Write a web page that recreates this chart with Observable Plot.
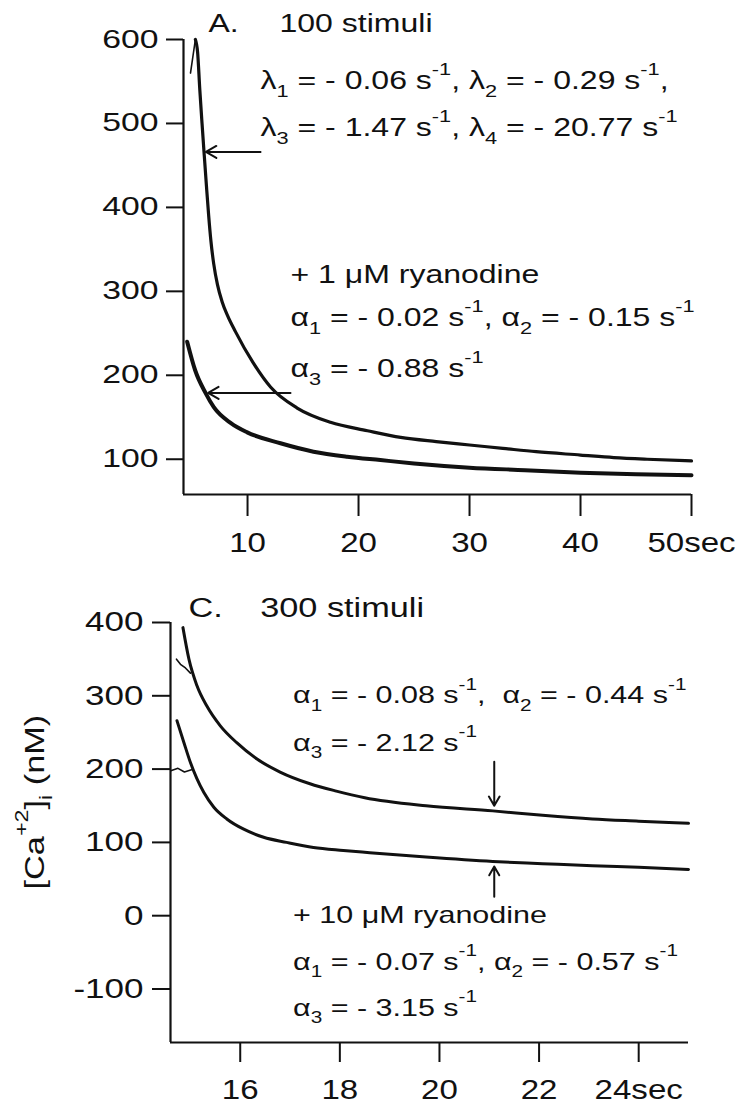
<!DOCTYPE html>
<html><head><meta charset="utf-8">
<style>
html,body{margin:0;padding:0;background:#fff;}
#wrap{width:736px;height:1106px;position:relative;overflow:hidden;}
#wrap svg{display:block;}
</style>
<script src="https://cdn.jsdelivr.net/npm/d3@7"></script>
<script src="https://cdn.jsdelivr.net/npm/@observablehq/plot@0.6"></script>
</head><body><div id="wrap"></div>
<script>
// ---------- Panel A: 100 stimuli ----------
const riseTimeA = [4.86, 5.3];
const riseCaA   = [560, 600];
const timeA100 = [5.3, 5.5, 5.7, 5.9, 6.1, 6.3, 6.5, 6.7, 6.95, 7.29, 7.7, 8.2, 8.91, 10.5, 12.07, 14.47, 17.47, 20.8, 23.8, 27, 30, 33, 36, 40, 43, 46, 50];
const caA100   = [600, 585, 540, 500, 462, 425, 390, 360, 333, 308, 288, 271, 252, 215, 186, 161, 144, 134, 126, 121, 117, 113, 109, 105, 102, 100, 98];
const timeARya = [4.56, 5.28, 6.21, 6.96, 8.5, 9.97, 12.97, 15.94, 18.98, 21.97, 25, 30, 35, 40, 45, 50];
const caARya   = [240, 206, 179, 162, 143, 132, 119, 109, 103, 99, 95, 90, 87, 84, 82, 81];
const xTicksA = [10, 20, 30, 40, 50];
const yTicksA = [100, 200, 300, 400, 500, 600];
const xDomainA = [4.23, 50];
const yDomainA = [58, 600];
const titlesA = [
  {t: 6.48, v: 618, label: "A."},
  {t: 12.88, v: 618, label: "100 stimuli"}
];
const labelsA = [
  {t: 11.17, v: 550, label: "λ{_1} = - 0.06 s{^-1}, λ{_2} = - 0.29 s{^-1},"},
  {t: 11.17, v: 494, label: "λ{_3} = - 1.47 s{^-1}, λ{_4} = - 20.77 s{^-1}"},
  {t: 13.87, v: 319, label: "+ 1 μM ryanodine"},
  {t: 13.87, v: 268, label: "α{_1} = - 0.02 s{^-1}, α{_2} = - 0.15 s{^-1}"},
  {t: 13.87, v: 207, label: "α{_3} = - 0.88 s{^-1}"}
];
const arrowsA = [
  {t1: 11.17, t2: 6.25, v: 466},
  {t1: 13.87, t2: 6.45, v: 179}
];

// ---------- Panel C: 300 stimuli ----------
const timeC300 = [14.85, 14.97, 15.13, 15.33, 15.6, 15.93, 16.33, 16.8, 17.4, 17.93, 18.5, 19.73, 21.07, 22.07, 23.07, 24.0, 25.0];
const caC300   = [393, 350, 314, 286, 259, 236, 214, 196, 180, 170, 161, 150, 143, 137, 132, 129, 126];
const timeCRya = [14.73, 14.87, 15.0, 15.13, 15.27, 15.47, 15.73, 16.07, 16.47, 16.93, 17.47, 18.07, 18.6, 19.73, 21.07, 22.07, 23.07, 24.0, 25.0];
const caCRya   = [266, 236, 209, 187, 168, 148, 132, 118, 107, 100, 93, 89, 86, 80, 74, 71, 68, 66, 63];
const rawTimeC300 = [14.72, 14.8, 14.9, 15.0];
const rawCaC300   = [350, 343, 338, 331];
const rawTimeCRya = [14.62, 14.75, 14.88, 15.02];
const rawCaCRya   = [198, 201, 196, 199];
const xTicksC = [16, 18, 20, 22, 24];
const yTicksC = [-100, 0, 100, 200, 300, 400];
const xDomainC = [14.6, 25];
const yDomainC = [-173, 400];
const titlesC = [
  {t: 14.96, v: 419, label: "C."},
  {t: 16.4, v: 419, label: "300 stimuli"}
];
const labelsC = [
  {t: 17.06, v: 300, label: "α{_1} = - 0.08 s{^-1},  α{_2} = - 0.44 s{^-1}"},
  {t: 17.06, v: 235, label: "α{_3} = - 2.12 s{^-1}"},
  {t: 17.06, v: 0, label: "+ 10 μM ryanodine"},
  {t: 17.06, v: -64, label: "α{_1} = - 0.07 s{^-1}, α{_2} = - 0.57 s{^-1}"},
  {t: 17.06, v: -126, label: "α{_3} = - 3.15 s{^-1}"}
];
const arrowsC = [
  {t: 21.1, v1: 210, v2: 150},
  {t: 21.1, v1: 26, v2: 67}
];
const yLabelC = "[Ca{^+2}]{_i} (nM)";

// ---------- helpers ----------
const FONT = "'Liberation Sans', Arial, Helvetica, sans-serif";
const pts = (ts, vs) => ts.map((t, i) => ({t, v: vs[i]}));
const secFmt = last => d => d === last ? d + "sec" : String(d);

function richify(svg) {
  const ns = "http://www.w3.org/2000/svg";
  svg.querySelectorAll("text").forEach(el => {
    const s = el.textContent;
    if (!/\{[_^]/.test(s)) return;
    const host = el.closest("[font-size]");
    const fs = host ? parseFloat(host.getAttribute("font-size")) : 24;
    while (el.firstChild) el.removeChild(el.firstChild);
    const re = /\{([_^])([^}]*)\}/g;
    let last = 0, shift = 0, m;
    const add = (txt, size, target) => {
      const ts = document.createElementNS(ns, "tspan");
      ts.textContent = txt;
      if (size) ts.setAttribute("font-size", size);
      const d = target - shift;
      if (d) ts.setAttribute("dy", d);
      shift = target;
      el.appendChild(ts);
    };
    while ((m = re.exec(s))) {
      if (m.index > last) add(s.slice(last, m.index), null, 0);
      if (m[1] === "_") add(m[2], fs * 0.68, fs * 0.3);
      else add(m[2], fs * 0.68, -fs * 0.58);
      last = re.lastIndex;
    }
    if (last < s.length) add(s.slice(last), null, 0);
  });
}

// the scanned figure's lettering is horizontally wide: stretch glyphs
function widen(svg, factors) {
  Object.entries(factors).forEach(([aria, f]) => {
    svg.querySelectorAll(`g[aria-label="${aria}"] text`).forEach(el => {
      const w = el.getComputedTextLength();
      if (w > 0) {
        el.setAttribute("textLength", (w * f).toFixed(1));
        el.setAttribute("lengthAdjust", "spacingAndGlyphs");
      }
    });
  });
}

// ---------- Panel A ----------
const plotA = Plot.plot({
  width: 736, height: 560,
  marginLeft: 183, marginRight: 45, marginTop: 39, marginBottom: 66,
  x: {domain: xDomainA},
  y: {domain: yDomainA},
  style: {fontFamily: FONT, color: "#111", background: "#fff", overflow: "visible"},
  marks: [
    Plot.axisY({ticks: yTicksA, tickFormat: d => String(d), tickSize: 17, tickPadding: 8, fontSize: 25, strokeWidth: 2, label: null}),
    Plot.axisX({ticks: xTicksA, tickFormat: secFmt(50), tickSize: 22, tickPadding: 16, fontSize: 28, strokeWidth: 2, label: null}),
    Plot.ruleX([xDomainA[0]], {strokeWidth: 2.2}),
    Plot.ruleY([yDomainA[0]], {strokeWidth: 2.2}),
    Plot.line(pts(timeARya, caARya), {x: "t", y: "v", strokeWidth: 4, curve: "monotone-x"}),
    Plot.line(pts(riseTimeA, riseCaA), {x: "t", y: "v", strokeWidth: 1.6}),
    Plot.line(pts(timeA100, caA100), {x: "t", y: "v", strokeWidth: 3.2, curve: "monotone-x"}),
    Plot.arrow(arrowsA, {x1: "t1", y1: "v", x2: "t2", y2: "v", headLength: 9, strokeWidth: 2}),
    Plot.text(titlesA, {x: "t", y: "v", text: "label", textAnchor: "start", fontSize: 25}),
    Plot.text(labelsA, {x: "t", y: "v", text: "label", textAnchor: "start", fontSize: 25})
  ]
});

// ---------- Panel C ----------
const plotC = Plot.plot({
  width: 736, height: 546,
  marginLeft: 170, marginRight: 48, marginTop: 62, marginBottom: 64,
  x: {domain: xDomainC},
  y: {domain: yDomainC},
  style: {fontFamily: FONT, color: "#111", background: "#fff", overflow: "visible"},
  marks: [
    Plot.axisY({ticks: yTicksC, tickFormat: d => String(d), tickSize: 18, tickPadding: 9, fontSize: 28, strokeWidth: 2, label: null}),
    Plot.axisX({ticks: xTicksC, tickFormat: secFmt(24), tickSize: 20, tickPadding: 17, fontSize: 28, strokeWidth: 2, label: null}),
    Plot.ruleX([xDomainC[0]], {strokeWidth: 2.2}),
    Plot.ruleY([yDomainC[0]], {strokeWidth: 2.2}),
    Plot.line(pts(rawTimeC300, rawCaC300), {x: "t", y: "v", strokeWidth: 1.6}),
    Plot.line(pts(rawTimeCRya, rawCaCRya), {x: "t", y: "v", strokeWidth: 1.6}),
    Plot.line(pts(timeC300, caC300), {x: "t", y: "v", strokeWidth: 3, curve: "monotone-x"}),
    Plot.line(pts(timeCRya, caCRya), {x: "t", y: "v", strokeWidth: 3, curve: "monotone-x"}),
    Plot.arrow(arrowsC, {x1: "t", y1: "v1", x2: "t", y2: "v2", headLength: 8, strokeWidth: 2}),
    Plot.text(titlesC, {x: "t", y: "v", text: "label", textAnchor: "start", fontSize: 27}),
    Plot.text(labelsC, {x: "t", y: "v", text: "label", textAnchor: "start", fontSize: 24}),
    Plot.text([{t: xDomainC[0], v: 155}], {x: "t", y: "v", text: () => yLabelC, rotate: -90, dx: -135, fontSize: 27, textAnchor: "middle"})
  ]
});

const wrap = document.getElementById("wrap");
wrap.appendChild(plotA);
wrap.appendChild(plotC);
richify(plotA);
richify(plotC);
widen(plotA, {"y-axis tick label": 1.35, "x-axis tick label": 1.18, "text": 1.28});
widen(plotC, {"y-axis tick label": 1.25, "x-axis tick label": 1.18, "text": 1.27});
</script>
</body></html>
